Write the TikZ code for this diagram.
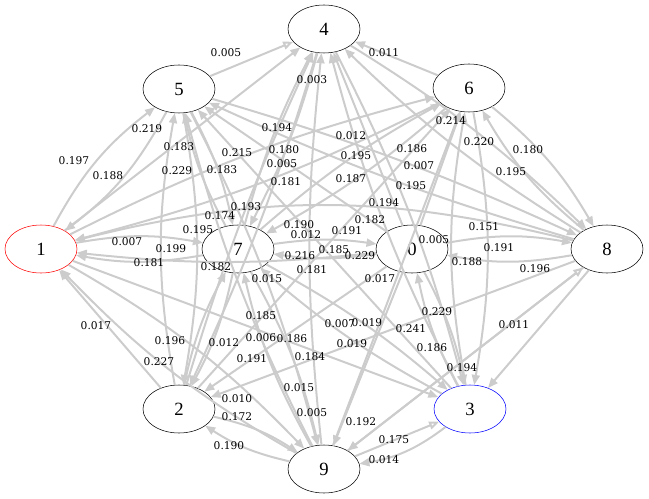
\documentclass[tikz,border=0pt]{standalone}
\usepackage{fontspec}
\setmainfont{Liberation Serif}
\newfontfamily\weightfont{DejaVu Serif}
\usetikzlibrary{arrows.meta,shapes.geometric}
\definecolor{linkgray}{RGB}{204,204,204}

\begin{document}
\begin{tikzpicture}[x=0.75pt, y=-0.75pt,
	state/.style={draw, ellipse, minimum width=54pt, minimum height=36pt, inner sep=0pt, font=\fontsize{14}{16}\selectfont},
	link/.style={draw=linkgray, line width=1.5pt, -{Triangle[length=7.5pt,width=6pt]}},
	openlink/.style={-{Triangle[open,length=7.5pt,width=6pt,fill=white]}},
	weight/.style={inner sep=0pt, font=\weightfont\fontsize{8}{9}\selectfont}]
	
	\useasboundingbox (0,0) rectangle (649,499);
	
	% states
	\node[state] (n0) at (412,249) {0};
	\node[state, draw=red] (n1) at (41,249) {1};
	\node[state] (n2) at (179,409) {2};
	\node[state, draw=blue] (n3) at (470,409) {3};
	\node[state] (n4) at (324,29) {4};
	\node[state] (n5) at (179,89) {5};
	\node[state] (n6) at (469,88) {6};
	\node[state] (n7) at (238,249) {7};
	\node[state] (n8) at (607,249) {8};
	\node[state] (n9) at (324,469) {9};
	
	% transitions both ways
	\foreach \a/\b/\t in {0/3/8, 0/7/8, 0/8/10, 1/5/12, 1/6/6, 1/7/10, 1/9/8, 2/4/4, 2/5/10,
		2/9/10, 3/4/6, 3/6/10, 3/7/6, 4/7/6, 4/8/6, 5/7/8, 5/8/4, 5/9/6, 6/7/6,
		6/8/10, 7/9/8, 2/7/8}
	{
		\draw[link] (n\a) to[bend left=\t] (n\b);
		\draw[link] (n\b) to[bend left=\t] (n\a);
	}
	
	% transitions one way
	\foreach \a/\b/\t in {0/1/6, 0/2/0, 0/4/0, 0/5/0, 0/6/0, 0/9/0, 2/1/0, 1/3/0, 1/4/0,
		8/1/-14, 2/6/0, 8/2/0, 3/5/0, 8/3/0, 6/4/0, 9/6/0, 9/4/6, 8/9/0, 3/9/14}
		\draw[link] (n\a) to[bend left=\t] (n\b);
	\foreach \a/\b in {5/4, 9/3, 9/8}
		\draw[link, openlink] (n\a) -- (n\b);
	
	% weights
	\foreach \lx/\ly/\lw [count=\i] in {226/53/0.005, 384/53/0.011, 312/80/0.003, 147/129/0.219,
		179/147/0.183, 74/161/0.197, 108/176/0.188, 177/171/0.229, 222/170/0.183, 237/153/0.215,
		277/128/0.194, 284/150/0.180, 282/164/0.005, 351/136/0.012, 356/156/0.195, 412/149/0.186,
		419/166/0.007, 451/121/0.214, 479/142/0.220, 528/150/0.180, 511/172/0.195, 286/182/0.181,
		351/179/0.187, 411/186/0.195, 384/203/0.194, 370/220/0.182, 246/207/0.193, 220/216/0.174,
		198/230/0.195, 127/242/0.007, 171/249/0.199, 149/263/0.181, 216/267/0.182, 299/225/0.190,
		306/235/0.012, 347/231/0.191, 300/256/0.216, 334/250/0.185, 360/256/0.229, 312/270/0.181,
		267/279/0.015, 380/279/0.017, 434/240/0.005, 484/227/0.151, 499/248/0.191, 467/262/0.188,
		535/269/0.196, 437/312/0.229, 261/316/0.185, 340/324/0.007, 367/323/0.019, 411/329/0.241,
		96/326/0.017, 170/341/0.196, 159/362/0.227, 224/343/0.012, 261/338/0.006, 292/339/0.186,
		352/344/0.019, 432/348/0.186, 252/359/0.191, 310/357/0.184, 299/388/0.015, 237/399/0.010,
		237/417/0.172, 312/413/0.005, 229/446/0.190, 361/422/0.192, 394/440/0.175, 384/460/0.014,
		514/325/0.011, 462/368/0.194}
		\node[weight] (w\i) at (\lx,\ly) {\lw};
	
\end{tikzpicture}
\end{document}
